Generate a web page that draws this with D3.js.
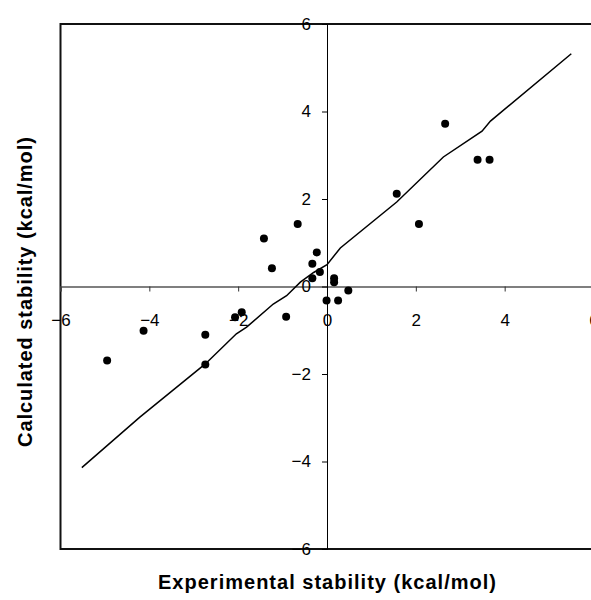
<!DOCTYPE html>
<html>
<head>
<meta charset="utf-8">
<script src="https://cdn.jsdelivr.net/npm/d3@7"></script>
<style>
  body { margin: 0; background: #fff; }
  svg { display: block; font-family: "Liberation Sans", Arial, sans-serif; }
</style>
</head>
<body>
<svg width="591" height="600"></svg>
<script>
// scatter points: experimental vs calculated stability
var expX = [-4.95, -4.13, -2.74, -2.74, -2.07, -1.92, -0.92, -1.42, -1.24, -0.66, -0.23, -0.33,
  -0.16, -0.33, 0.16, 0.16, -0.01, 0.25, 0.48, 1.57, 2.07, 2.66, 3.39, 3.66];
var calcY = [-1.69, -1.01, -1.10, -1.78, -0.70, -0.59, -0.69, 1.10, 0.42, 1.43, 0.78, 0.52,
  0.33, 0.19, 0.19, 0.10, -0.32, -0.32, -0.09, 2.12, 1.43, 3.72, 2.90, 2.90];

// fitted line
var fitX = [-5.52, -4.22, -2.74, -2.04, -1.81, -1.21, -0.91, -0.6, -0.3, 0, 0.3, 1.57, 2.62, 3.49, 3.68, 5.50];
var fitY = [-4.14, -2.99, -1.77, -1.08, -0.93, -0.40, -0.21, 0.1, 0.32, 0.5, 0.88, 1.93, 2.96, 3.55, 3.78, 5.32];

var tickVals = [-6, -4, -2, 0, 2, 4, 6];

var svg = d3.select("svg");

var x = d3.scaleLinear().domain([-6, 6]).range([60.5, 593.5]);
var y = d3.scaleLinear().domain([-6, 6]).range([549, 24]);

// plot frame
svg.append("rect")
  .attr("x", x(-6))
  .attr("y", y(6))
  .attr("width", x(6) - x(-6))
  .attr("height", y(-6) - y(6))
  .attr("fill", "none")
  .attr("stroke", "#111")
  .attr("stroke-width", 2);

var xAxis = d3.axisBottom(x)
  .tickValues(tickVals)
  .tickSize(5)
  .tickPadding(22)
  .tickFormat(d3.format("d"));

var gx = svg.append("g")
  .attr("transform", "translate(0," + y(0) + ")")
  .attr("font-size", 17)
  .call(xAxis);
gx.attr("font-size", 17);
gx.select(".domain").attr("stroke", "#555").attr("stroke-width", 1.5);
gx.selectAll(".tick line").attr("stroke", "#333");

var yAxis = d3.axisLeft(y)
  .tickValues(tickVals)
  .tickSize(5)
  .tickPadding(11)
  .tickFormat(d3.format("d"));

var gy = svg.append("g")
  .attr("transform", "translate(" + x(0) + ",0)")
  .call(yAxis);
gy.attr("font-size", 17);
gy.select(".domain").attr("stroke", "#000").attr("stroke-width", 1);

svg.selectAll(".tick text").attr("fill", "#000");

// fit line
var pts = fitX.map(function (d, i) { return [d, fitY[i]]; });
var line = d3.line()
  .x(function (d) { return x(d[0]); })
  .y(function (d) { return y(d[1]); });

svg.append("path")
  .datum(pts)
  .attr("d", line)
  .attr("fill", "none")
  .attr("stroke", "#000")
  .attr("stroke-width", 1.5);

// points
svg.append("g")
  .selectAll("circle")
  .data(expX)
  .enter()
  .append("circle")
  .attr("cx", function (d) { return x(d); })
  .attr("cy", function (d, i) { return y(calcY[i]); })
  .attr("r", 4)
  .attr("fill", "#000");

// axis titles
svg.append("text")
  .attr("x", 327)
  .attr("y", 589)
  .attr("text-anchor", "middle")
  .attr("font-size", 20)
  .attr("font-weight", "bold")
  .attr("textLength", 338)
  .attr("lengthAdjust", "spacing")
  .text("Experimental stability (kcal/mol)");

svg.append("text")
  .attr("transform", "translate(32,292) rotate(-90)")
  .attr("text-anchor", "middle")
  .attr("font-size", 20)
  .attr("font-weight", "bold")
  .attr("textLength", 310)
  .attr("lengthAdjust", "spacing")
  .text("Calculated stability (kcal/mol)");
</script>
</body>
</html>
